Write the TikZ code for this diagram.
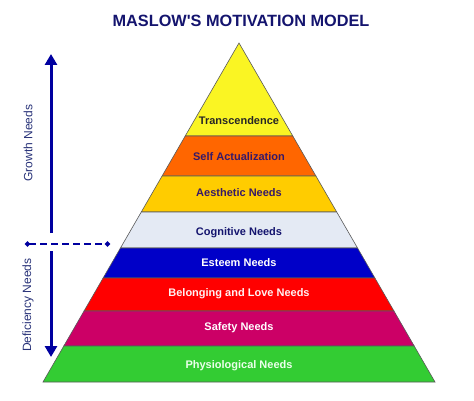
\documentclass[tikz,border=0pt]{standalone}
\usepackage{fontspec}
\setmainfont{Liberation Sans}
\usepackage{xcolor}
\usetikzlibrary{arrows.meta}

\definecolor{transc}{RGB}{250,245,35}
\definecolor{selfact}{RGB}{255,102,0}
\definecolor{aesth}{RGB}{255,204,0}
\definecolor{cogn}{RGB}{228,234,244}
\definecolor{esteem}{RGB}{0,0,200}
\definecolor{belong}{RGB}{255,0,0}
\definecolor{safety}{RGB}{204,0,102}
\definecolor{physio}{RGB}{51,204,51}
\definecolor{titleblue}{RGB}{20,20,110}
\definecolor{sideblue}{RGB}{40,50,120}
\definecolor{arrowblue}{RGB}{0,0,160}
\definecolor{darkpurple}{RGB}{55,25,105}

\begin{document}
\begin{tikzpicture}[
    x=1pt, y=-1pt,
    layer/.style={
        draw=black!65,
        line width=0.6pt
    },
    lbl/.style={
        font=\fontsize{11}{13}\selectfont\bfseries,
        inner sep=1pt
    },
    side/.style={
        font=\fontsize{12}{14}\selectfont,
        text=sideblue,
        rotate=90
    },
    needs/.style={
        draw=arrowblue,
        line width=3pt,
        -{Triangle[width=12pt,length=11pt]}
    },
    split/.style={
        draw=arrowblue,
        line width=2pt,
        dash pattern=on 7pt off 4pt,
        {Circle[length=5pt]}-{Circle[length=5pt]}
    }
]
    \useasboundingbox (0,0) rectangle (474,401);

    % --- Title ---
    \node [font=\fontsize{16.3}{19}\selectfont\bfseries, text=titleblue] (title) at (241,21) {MASLOW\textquotesingle S MOTIVATION MODEL};

    % --- Pyramid: one trapezoid per layer ---
    \foreach \t/\b/\ly/\col/\tcol/\lab [count=\i] in {
        43/136/121/transc/black!85/Transcendence,
        136/176/157/selfact/darkpurple/Self Actualization,
        176/212/193/aesth/darkpurple/Aesthetic Needs,
        212/248/233/cogn/titleblue/Cognitive Needs,
        248/278/263/esteem/white/Esteem Needs,
        278/311/294/belong/white!95!red/Belonging and Love Needs,
        311/346/328/safety/white/Safety Needs,
        346/382/366/physio/white!92!green/Physiological Needs}
    {
        \path [layer, fill=\col] ({239-(\t-43)*0.5782},\t) -- ({239+(\t-43)*0.5782},\t)
            -- ({239+(\b-43)*0.5782},\b) -- ({239-(\b-43)*0.5782},\b) -- cycle;
        \node [lbl, text=\tcol] (layer\i) at (239,\ly) {\lab};
    }

    % --- Left side: growth vs deficiency ---
    \coordinate (growthstart) at (51,233);
    \coordinate (growthend) at (51,54);
    \coordinate (deficstart) at (51,251);
    \coordinate (deficend) at (51,357);
    \coordinate (splitleft) at (25,244);
    \coordinate (splitright) at (110,244);

    \path [needs] (growthstart) -- (growthend);
    \path [needs] (deficstart) -- (deficend);
    \path [split] (splitleft) -- (splitright);

    \node [side] (growth) at (28,143) {Growth Needs};
    \node [side] (deficiency) at (28,305) {Deficiency Needs};

\end{tikzpicture}
\end{document}
